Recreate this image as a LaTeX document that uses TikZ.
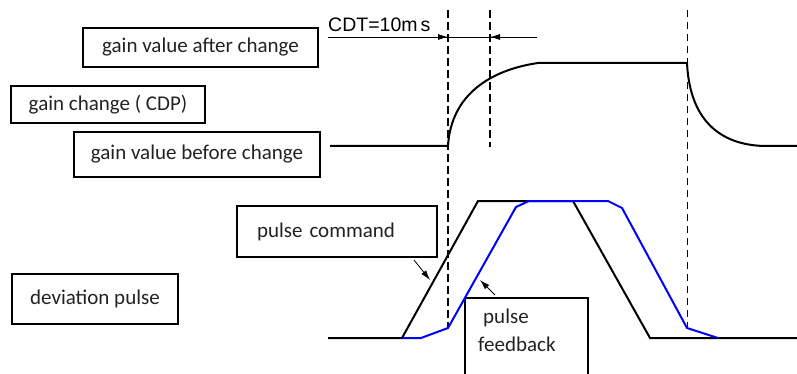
\documentclass[tikz,border=0pt]{standalone}
\usepackage{fontspec}
\setmainfont{Carlito}
\newfontfamily\cdtfont{Liberation Sans}
\usepackage{tikz}
\usetikzlibrary{arrows.meta,positioning,calc}
\definecolor{fbcol}{HTML}{0000FF}
\definecolor{txtcol}{HTML}{222222}

\begin{document}
\begin{tikzpicture}[x=1pt,y=-1pt,font=\fontsize{21}{28}\selectfont,
  lbl/.style={draw,line width=1.8pt,inner sep=0pt,align=center,text=txtcol},
  sig/.style={line width=2pt,line join=miter},
  dsh/.style={line width=1.8pt,dash pattern=on 8pt off 4pt},
  dshthin/.style={line width=1pt,dash pattern=on 7pt off 5pt},
  ar/.style={-{Latex[length=10pt,width=6pt]},line width=0.8pt},
]
\useasboundingbox (0,0) rectangle (797,374);
\clip (0,0) rectangle (797,374);

% label boxes
\node[lbl,minimum width=235pt,minimum height=39pt] (after) at (200.5,47.5) {gain value after change};
\node[lbl,minimum width=194pt,minimum height=37pt] (cdp) at (108,104.5) {gain change ( CDP)};
\node[lbl,minimum width=246pt,minimum height=45pt] (before) at (197,154.5) {gain value before change};
\node[lbl,minimum width=166pt,minimum height=50pt] (dev) at (95,299) {deviation pulse};
\node[lbl,minimum width=200pt,minimum height=51pt,text width=160pt,align=left] (cmd) at (337,231.5) {pulse command};
\node[lbl,anchor=north west,minimum width=123pt,minimum height=100pt] (fb) at (464,297) {};
\node[anchor=north west,inner sep=0pt,align=left,text=txtcol] (fbtext) at ($(fb.north west)+(14,12)$) {\hspace{5pt}pulse\\feedback};

% timing marks
\coordinate (d1t) at (448,10);  \coordinate (d1b) at (448,327);
\coordinate (d2t) at (490,10);  \coordinate (d2b) at (490,147);
\coordinate (d3t) at (687,10);  \coordinate (d3b) at (687,328);
\draw[dsh] (d1t) -- (d1b);
\draw[dsh] (d2t) -- (d2b);
\draw[dshthin] (d3t) -- (d3b);

\coordinate (cdtL) at (328,37);
\coordinate (cdtR) at (537,37);
\draw[line width=0.8pt] (cdtL) -- (cdtR);
\draw[ar] (cdtL) -- (d1t |- cdtL);
\draw[ar] (cdtR) -- (d2t |- cdtR);
\node[anchor=base west,inner sep=0pt,font=\cdtfont\fontsize{19.5}{22}\selectfont] (cdt) at ($(cdtL)+(0,-5)$) {CDT=10m\hspace{3pt}s};

% gain
\draw[sig] (330,146) -- (448,146) .. controls (451,95) and (490,70) .. (538,63)
  -- (687,63) .. controls (690,125) and (725,146) .. (767,146) -- (797,146);

% pulses
\draw[sig] (328,338) -- (402,338) -- (478,201) -- (573,201) -- (650,338) -- (797,338);
\draw[sig,fbcol] (402,338) -- (421,338) -- (448,328) -- (516,207) -- (529,201)
  -- (608,201) -- (622,208) -- (687,328) -- (718,338);

% pointers
\coordinate (cmdtip) at (430,280);
\coordinate (fbtip) at (480,280);
\draw[ar] ($(cmd.south east)+(-24,2)$) -- (cmdtip);
\draw[ar] ($(fb.north west)+(31,-2)$) -- (fbtip);
\end{tikzpicture}
\end{document}
